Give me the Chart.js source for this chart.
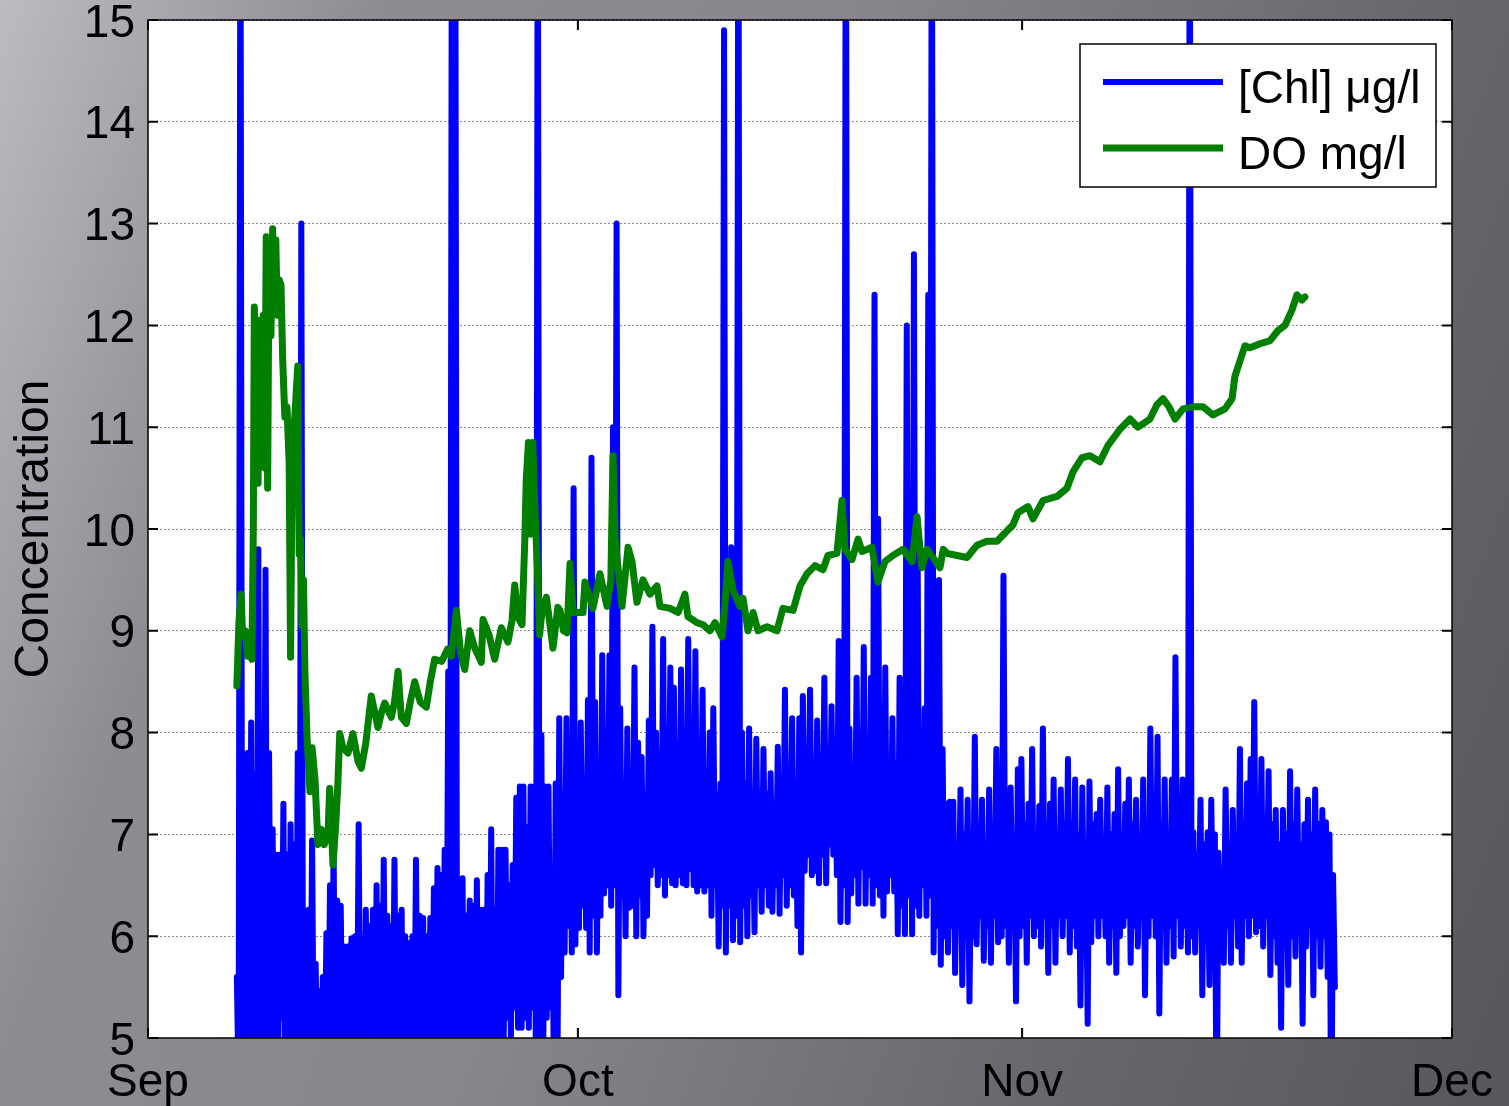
<!DOCTYPE html>
<html lang="en">
<head>
    <meta charset="UTF-8">
    <title>Chlorophyll and dissolved oxygen</title>
    <script src="https://cdn.jsdelivr.net/npm/chart.js"></script>
    <style>
        html, body { margin: 0; padding: 0; }
        body {
            width: 1509px;
            height: 1106px;
            overflow: hidden;
            background: linear-gradient(110deg, #bdbbc1 0%, #8e8c92 20%, #88868c 45%, #69676d 75%, #58565c 100%);
        }
        canvas { display: block; }
    </style>
</head>
<body>
    <canvas id="concChart" width="1509" height="1106"></canvas>

    <script>
        // x axis: days since 1 Sep
        const monthTicks = [0, 30, 61, 91];
        const monthLabels = ['Sep', 'Oct', 'Nov', 'Dec'];

        // DO mg/l
        const doDays = [
            6.2, 6.35, 6.5, 6.6, 6.8, 6.95, 7.1, 7.25, 7.35, 7.42, 7.55, 7.68, 7.8, 7.92, 8.05, 8.15, 8.25, 8.35, 8.45, 8.58,
            8.7, 8.8, 8.92, 9.02, 9.15, 9.28, 9.4, 9.55, 9.7, 9.85, 9.95, 10.05, 10.2, 10.45, 10.55, 10.65, 10.75, 10.85, 10.95, 11.1,
            11.3, 11.45, 11.65, 11.86, 12.1, 12.3, 12.56, 12.68, 12.91, 13.1, 13.25, 13.38, 13.6, 13.96, 14.3, 14.65, 14.89, 15.2, 15.58, 16.05,
            16.3, 16.52, 16.98, 17.2, 17.45, 17.68, 18.03, 18.3, 18.61, 19.0, 19.42, 19.7, 20.0, 20.5, 20.9, 21.17, 21.52, 21.8, 22.1, 22.45,
            22.8, 23.26, 23.38, 23.8, 24.19, 24.66, 25.12, 25.4, 25.59, 25.82, 26.1, 26.29, 26.4, 26.55, 26.7, 26.85, 27.0, 27.15, 27.33, 27.5,
            27.8, 28.26, 28.6, 28.75, 29.0, 29.24, 29.45, 29.66, 30.36, 30.49, 31.05, 31.54, 32.03, 32.3, 32.45, 32.6, 32.73, 33.08, 33.5, 33.78,
            34.12, 34.54, 35.03, 35.52, 35.73, 36.43, 36.99, 37.47, 37.68, 38.31, 38.73, 39.22, 39.57, 40.06, 40.27, 40.47, 40.82, 41.31, 41.52, 41.87,
            42.22, 42.57, 43.2, 43.89, 44.31, 45.01, 45.5, 45.99, 46.55, 47.1, 47.45, 48.08, 48.43, 48.64, 49.13, 49.55, 49.83, 50.52, 50.94, 51.43,
            51.99, 52.69, 53.32, 53.66, 54.01, 54.36, 54.78, 55.27, 55.5, 55.76, 56.46, 57.15, 57.85, 58.55, 59.25, 59.94, 60.36, 60.71, 61.41, 61.76,
            62.46, 63.43, 64.13, 64.55, 65.18, 65.74, 66.43, 66.99, 67.83, 68.53, 69.09, 69.92, 70.41, 70.83, 71.25, 71.67, 72.23, 72.92, 73.62, 74.32,
            75.16, 75.65, 75.85, 76.2, 76.55, 76.9, 77.6, 78.3, 78.86, 79.34, 79.83, 80.18, 80.53, 80.74
        ];
        const doValues = [
            8.46, 9.1, 9.36, 8.95, 9.0, 8.75, 8.9, 8.72, 10.0, 12.18, 11.0, 10.45, 12.05, 11.4, 12.1, 10.6, 12.87, 10.4, 12.8, 11.9,
            12.95, 12.2, 12.84, 12.1, 12.45, 12.4, 11.66, 11.1, 11.2, 10.65, 8.74, 10.5, 11.0, 11.6, 9.75, 9.9, 9.05, 9.5, 8.6, 7.95,
            7.42, 7.85, 7.55, 6.9, 7.05, 6.9, 7.0, 7.45, 6.7, 7.1, 7.5, 7.99, 7.85, 7.8, 7.99, 7.72, 7.65, 7.9, 8.36, 8.05,
            8.2, 8.29, 8.15, 8.3, 8.6, 8.15, 8.09, 8.3, 8.5, 8.3, 8.25, 8.5, 8.72, 8.7, 8.82, 8.75, 9.2, 8.8, 8.62, 9.0,
            8.83, 8.69, 9.11, 8.96, 8.72, 9.03, 8.89, 9.1, 9.45, 9.13, 9.06, 9.87, 10.5, 10.85, 9.95, 10.85, 10.2, 9.7, 8.96, 9.2,
            9.33, 8.83, 9.23, 9.2, 9.0, 8.98, 9.66, 9.18, 9.18, 9.48, 9.22, 9.56, 9.24, 9.5, 10.72, 9.9, 9.72, 9.24, 9.82, 9.68,
            9.28, 9.5, 9.36, 9.44, 9.24, 9.22, 9.18, 9.36, 9.14, 9.08, 9.06, 9.0, 9.08, 8.94, 9.28, 9.68, 9.4, 9.24, 9.32, 9.0,
            9.18, 9.0, 9.04, 9.0, 9.22, 9.2, 9.44, 9.56, 9.64, 9.6, 9.74, 9.76, 10.28, 9.8, 9.7, 9.9, 9.78, 9.82, 9.48, 9.68,
            9.74, 9.8, 9.68, 10.12, 9.62, 9.8, 9.72, 9.62, 9.8, 9.76, 9.74, 9.72, 9.84, 9.88, 9.88, 9.98, 10.04, 10.16, 10.22, 10.1,
            10.28, 10.32, 10.4, 10.56, 10.7, 10.72, 10.66, 10.82, 10.98, 11.08, 11.0, 11.08, 11.22, 11.28, 11.2, 11.08, 11.18, 11.2, 11.2, 11.12,
            11.18, 11.28, 11.5, 11.65, 11.8, 11.78, 11.82, 11.85, 11.95, 12.0, 12.15, 12.3, 12.25, 12.28
        ];

        // [Chl] ug/l, one reading every 3 hours from day 6.2
        const chlStart = 6.2;
        const chlStep = 0.125;
        const chlValues = [
            5.6, 4.5, 17, 4.6, 7.2, 4.5, 7.8, 4.6, 8.1, 4.6, 7.6, 4.5, 9.8, 4.6, 7.4, 4.6, 9.6, 4.5, 7.8, 4.6,
            7.05, 4.5, 6.8, 4.6, 6.8, 5.2, 7.3, 4.6, 6.8, 4.8, 7.1, 4.5, 6.9, 4.6, 7.8, 4.6, 13.0, 4.5, 5.76, 4.6,
            6.26, 4.5, 6.94, 4.6, 5.73, 4.5, 5.46, 4.6, 5.6, 4.5, 6.03, 4.6, 6.5, 4.5, 6.9, 4.6, 6.35, 4.5, 6.3, 4.6,
            5.9, 4.5, 5.9, 4.6, 5.98, 4.5, 6.0, 4.6, 7.1, 4.5, 6.0, 4.6, 6.26, 4.5, 6.1, 4.6, 6.26, 4.5, 6.5, 4.6,
            6.3, 4.5, 6.75, 4.6, 6.2, 4.5, 6.1, 4.6, 6.75, 4.5, 6.2, 4.6, 6.26, 4.5, 6.0, 5.2, 5.93, 4.6, 6.0, 4.5,
            6.75, 4.6, 6.2, 4.5, 6.18, 4.6, 6.0, 4.5, 6.18, 4.6, 6.47, 4.5, 6.67, 4.6, 6.6, 4.5, 6.85, 4.6, 8.6, 4.5,
            16, 4.6, 16, 4.5, 6.3, 4.6, 6.57, 4.5, 6.2, 4.6, 6.35, 4.5, 6.3, 4.6, 6.55, 4.5, 6.26, 4.6, 6.26, 4.5,
            6.6, 4.6, 7.05, 4.5, 6.26, 4.6, 6.85, 4.8, 6.85, 5.0, 6.85, 5.2, 6.5, 5.0, 6.7, 5.3, 7.36, 5.1, 7.47, 5.1,
            7.47, 5.2, 7.07, 5.1, 7.47, 5.3, 7.47, 4.6, 17, 4.6, 7.98, 4.6, 7.47, 5.2, 7.47, 5.3, 6.67, 4.6, 7.5, 4.6,
            8.14, 5.6, 7.4, 5.84, 8.14, 6.1, 7.86, 5.84, 10.4, 5.92, 7.3, 6.08, 8.1, 6.3, 7.54, 6.08, 8.32, 5.84, 10.7, 6.2,
            8.3, 5.84, 7.54, 6.2, 8.76, 6.42, 7.6, 6.5, 8.76, 6.3, 11.0, 6.5, 13.0, 5.42, 8.24, 6.4, 7.5, 6.0, 8.04, 6.28,
            7.6, 6.3, 8.64, 6.0, 7.9, 6.4, 7.76, 6.0, 7.4, 6.2, 8.12, 6.6, 9.04, 6.7, 8.0, 6.5, 7.8, 6.6, 8.92, 6.4,
            7.7, 6.6, 8.64, 6.52, 8.44, 6.5, 7.8, 6.6, 8.62, 6.52, 8.0, 6.5, 8.92, 6.66, 7.9, 6.5, 8.8, 6.44, 7.7, 6.5,
            8.42, 6.44, 7.6, 6.5, 8.0, 6.2, 8.24, 6.5, 7.4, 5.9, 7.5, 6.3, 14.9, 5.84, 7.6, 6.3, 9.82, 5.96, 7.7, 6.2,
            17, 5.94, 8.0, 6.3, 7.5, 6.0, 8.04, 6.4, 7.4, 6.04, 7.94, 6.5, 7.3, 6.24, 7.84, 6.5, 7.4, 6.3, 7.6, 6.24,
            7.3, 6.5, 7.86, 6.22, 7.5, 6.6, 8.42, 6.3, 7.6, 6.5, 8.14, 6.4, 7.5, 6.1, 8.14, 5.84, 8.36, 6.64, 7.6, 6.8,
            8.42, 6.6, 7.7, 6.64, 8.12, 6.52, 7.6, 6.8, 8.54, 6.52, 7.8, 6.9, 8.26, 6.8, 7.7, 6.6, 8.9, 6.14, 7.9, 6.5,
            17, 6.14, 8.04, 6.42, 7.6, 6.6, 8.54, 6.32, 7.8, 6.68, 8.84, 6.32, 7.7, 6.6, 8.54, 6.32, 12.3, 6.5, 10.1, 6.4,
            7.8, 6.2, 8.64, 6.44, 7.6, 6.6, 8.14, 6.44, 7.7, 6.02, 8.54, 6.3, 7.5, 6.02, 12.0, 6.4, 8.4, 6.02, 12.7, 6.3,
            10.1, 6.2, 7.6, 6.5, 8.24, 6.2, 12.3, 6.4, 17, 5.84, 8.5, 6.1, 9.5, 5.72, 7.84, 6.0, 7.3, 5.84, 7.32, 6.1,
            7.32, 5.64, 6.9, 6.1, 7.44, 5.52, 7.0, 6.2, 7.34, 5.36, 6.9, 6.0, 7.96, 5.92, 7.1, 6.2, 7.34, 5.76, 6.9, 6.1,
            7.44, 5.74, 7.0, 6.2, 7.84, 5.94, 7.1, 6.0, 9.54, 6.1, 7.0, 5.74, 7.46, 6.2, 6.9, 5.36, 7.64, 6.0, 7.74, 6.1,
            7.1, 5.74, 7.3, 6.2, 7.84, 6.0, 7.0, 6.1, 7.28, 5.9, 8.04, 6.2, 7.1, 5.64, 7.3, 6.1, 7.54, 5.74, 7.0, 6.2,
            7.44, 6.0, 6.9, 6.2, 7.74, 5.84, 7.1, 6.1, 7.54, 5.9, 7.0, 5.32, 7.46, 6.1, 6.9, 5.14, 7.52, 5.94, 7.1, 6.2,
            7.2, 6.0, 7.34, 6.2, 6.9, 6.0, 7.46, 5.74, 7.0, 6.1, 7.2, 5.64, 7.64, 6.0, 7.0, 6.1, 7.3, 6.2, 7.54, 5.74,
            7.1, 6.1, 7.34, 5.9, 6.9, 6.2, 7.54, 5.42, 7.1, 6.0, 8.04, 6.2, 7.2, 6.0, 7.96, 5.24, 7.1, 6.1, 7.54, 5.74,
            7.0, 6.1, 7.54, 5.8, 8.74, 6.2, 7.1, 5.9, 7.54, 6.1, 7.0, 5.84, 17, 6.0, 7.02, 5.84, 6.8, 6.1, 7.34, 5.42,
            6.9, 6.0, 7.02, 5.52, 7.34, 6.1, 7.0, 4.0, 6.82, 6.0, 6.6, 5.74, 7.44, 6.1, 6.9, 5.74, 7.24, 6.2, 7.0, 5.9,
            7.84, 5.74, 7.1, 6.2, 7.5, 6.0, 7.74, 6.2, 8.3, 6.04, 7.2, 6.1, 7.74, 5.9, 7.0, 6.2, 7.62, 5.62, 7.1, 6.0,
            7.24, 5.74, 6.9, 5.1, 7.24, 6.1, 7.0, 5.52, 7.62, 6.0, 7.1, 5.8, 7.44, 6.1, 6.9, 5.14, 7.1, 5.9, 7.34, 6.1,
            7.0, 5.42, 7.44, 6.0, 7.1, 5.7, 7.24, 6.0, 7.12, 5.6, 7.0, 4.0, 6.6, 5.5
        ];

        const chlPoints = chlValues.map((v, i) => ({ x: chlStart + i * chlStep, y: v }));
        const doPoints = doDays.map((d, i) => ({ x: d, y: doValues[i] }));

        Chart.defaults.font.family = '"Liberation Sans", Arial, sans-serif';
        Chart.defaults.color = '#000';

        // white plot area, matlab style box with inward ticks, legend in the corner
        const matlabFrame = {
            id: 'matlabFrame',
            beforeDraw(chart) {
                const { ctx, chartArea: a } = chart;
                ctx.save();
                ctx.fillStyle = '#ffffff';
                ctx.fillRect(a.left, a.top, a.right - a.left, a.bottom - a.top);
                ctx.restore();
            },
            afterDraw(chart) {
                const { ctx, chartArea: a, scales } = chart;
                ctx.save();
                ctx.strokeStyle = '#000';
                ctx.lineWidth = 2;
                ctx.beginPath();
                scales.y.ticks.forEach(t => {
                    const y = scales.y.getPixelForValue(t.value);
                    ctx.moveTo(a.left, y); ctx.lineTo(a.left + 10, y);
                    ctx.moveTo(a.right - 10, y); ctx.lineTo(a.right, y);
                });
                scales.x.ticks.forEach(t => {
                    const x = scales.x.getPixelForValue(t.value);
                    ctx.moveTo(x, a.bottom); ctx.lineTo(x, a.bottom - 10);
                    ctx.moveTo(x, a.top); ctx.lineTo(x, a.top + 10);
                });
                ctx.stroke();
                ctx.lineWidth = 1.5;
                ctx.strokeRect(a.left, a.top, a.right - a.left, a.bottom - a.top);

                // legend
                const lx = a.right - 372, ly = a.top + 24, lw = 356, lh = 143;
                ctx.fillStyle = '#fff';
                ctx.fillRect(lx, ly, lw, lh);
                ctx.strokeRect(lx, ly, lw, lh);
                ctx.font = '46px "Liberation Sans", Arial, sans-serif';
                ctx.textBaseline = 'alphabetic';
                ctx.textAlign = 'left';
                chart.data.datasets.forEach((ds, k) => {
                    const yy = ly + 38 + k * 66;
                    ctx.strokeStyle = ds.borderColor;
                    ctx.lineWidth = ds.borderWidth;
                    ctx.beginPath();
                    ctx.moveTo(lx + 23, yy);
                    ctx.lineTo(lx + 143, yy);
                    ctx.stroke();
                    ctx.fillStyle = '#000';
                    ctx.fillText(ds.label, lx + 158, ly + 59 + k * 66);
                });
                ctx.restore();
            }
        };

        const ctx = document.getElementById('concChart').getContext('2d');
        new Chart(ctx, {
            type: 'line',
            data: {
                datasets: [
                    {
                        label: '[Chl] \u03bcg/l',
                        data: chlPoints,
                        borderColor: '#0000ff',
                        borderWidth: 6,
                        pointRadius: 0,
                        borderJoinStyle: 'round',
                        borderCapStyle: 'round',
                        clip: 0,
                        order: 1
                    },
                    {
                        label: 'DO mg/l',
                        data: doPoints,
                        borderColor: '#007f00',
                        borderWidth: 7,
                        pointRadius: 0,
                        borderJoinStyle: 'round',
                        borderCapStyle: 'round',
                        clip: 0,
                        order: 0
                    }
                ]
            },
            options: {
                responsive: false,
                animation: false,
                devicePixelRatio: 1,
                layout: { padding: { top: 20, right: 57, left: 0, bottom: 0 } },
                plugins: {
                    legend: { display: false },
                    tooltip: { enabled: false }
                },
                scales: {
                    x: {
                        type: 'linear',
                        min: 0,
                        max: 91,
                        afterBuildTicks: scale => {
                            scale.ticks = monthTicks.map(v => ({ value: v }));
                        },
                        afterFit: scale => {
                            scale.height = 68;
                            scale.paddingLeft = 0;
                            scale.paddingRight = 0;
                        },
                        ticks: {
                            autoSkip: false,
                            maxRotation: 0,
                            padding: 10,
                            font: { size: 46 },
                            callback: v => monthLabels[monthTicks.indexOf(v)]
                        },
                        grid: { display: false },
                        border: { display: false }
                    },
                    y: {
                        min: 5,
                        max: 15,
                        afterFit: scale => {
                            scale.width = 148;
                            scale.paddingTop = 0;
                            scale.paddingBottom = 0;
                        },
                        ticks: {
                            stepSize: 1,
                            padding: 13,
                            labelOffset: 4,
                            font: { size: 46 }
                        },
                        grid: {
                            color: '#8c8c8c',
                            lineWidth: 1,
                            drawTicks: false
                        },
                        border: { display: false, dash: [2, 2] },
                        title: {
                            display: true,
                            text: 'Concentration',
                            font: { size: 48 },
                            padding: { top: 6, bottom: 0 }
                        }
                    }
                }
            },
            plugins: [matlabFrame]
        });
    </script>
</body>
</html>
